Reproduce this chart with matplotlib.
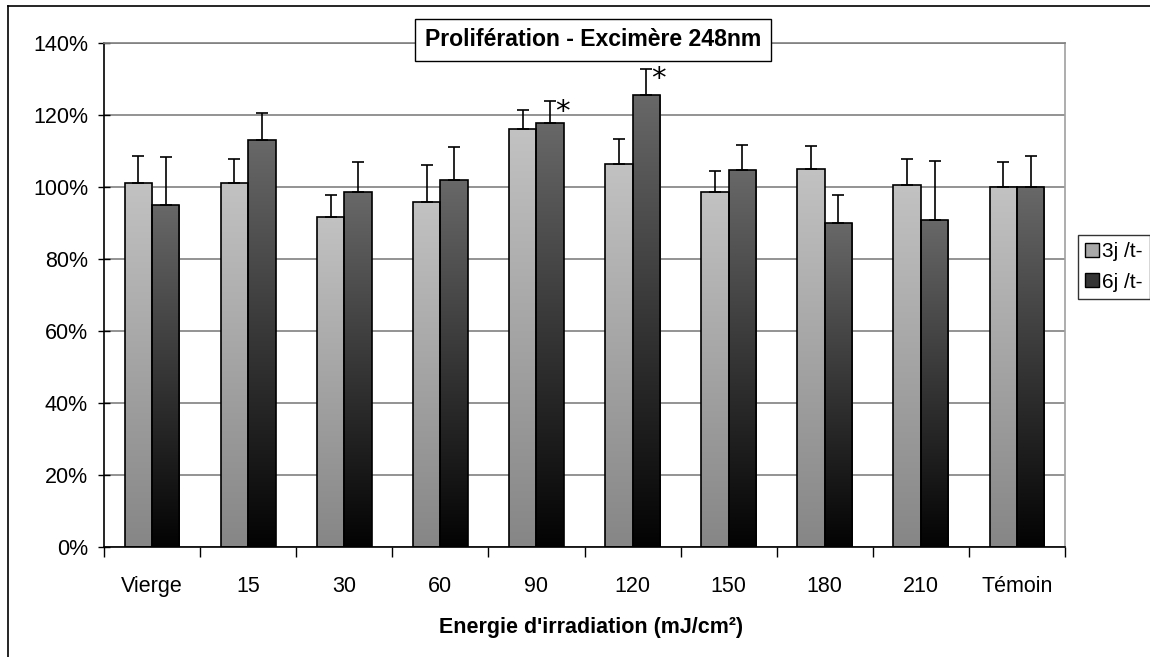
import numpy as np
import matplotlib
matplotlib.use("Agg")
from matplotlib import pyplot as plt
from matplotlib.colors import LinearSegmentedColormap
from matplotlib.patches import Patch
from matplotlib.lines import Line2D

plt.rcParams['font.family'] = ['Liberation Sans', 'DejaVu Sans']

# Données
categories = ['Vierge', '15', '30', '60', '90', '120', '150', '180', '210', 'Témoin']
series_names = ['3j /t-', '6j /t-']
vals_3j = [101.0, 101.0, 91.8, 95.9, 116.1, 106.5, 98.6, 105.1, 100.5, 100.0]
err_3j = [7.7, 6.9, 6.1, 10.2, 5.4, 6.8, 5.9, 6.4, 7.3, 6.9]
vals_6j = [95.1, 113.0, 98.6, 101.9, 117.9, 125.6, 104.6, 90.0, 90.9, 100.0]
err_6j = [13.2, 7.6, 8.3, 9.1, 6.0, 7.3, 7.2, 7.8, 16.4, 8.7]
signif_6j = ['90', '120']  # barres marquées d'une étoile

fig = plt.figure(figsize=(11.5, 6.57), dpi=100)
ax = fig.add_axes([104 / 1150, 110 / 657, 961 / 1150, 504 / 657])

x = np.arange(len(categories))
w = 0.285
cmap_clair = LinearSegmentedColormap.from_list('clair', ['#c2c2c2', '#868686'])
cmap_fonce = LinearSegmentedColormap.from_list('fonce', ['#686868', '#030303'])
grad = np.linspace(0, 1, 256).reshape(-1, 1)

for vals, errs, off, cmap in [(vals_3j, err_3j, -w / 2, cmap_clair),
                              (vals_6j, err_6j, w / 2, cmap_fonce)]:
    bars = ax.bar(x + off, vals, width=w, facecolor='none', edgecolor='black',
                  linewidth=1.2, zorder=3)
    for b in bars:
        x0, h = b.get_x(), b.get_height()
        im = ax.imshow(grad, cmap=cmap, aspect='auto', extent=[x0, x0 + w, 0, h],
                       origin='upper', zorder=2, interpolation='bilinear')
        im.set_clip_path(b)
    ax.errorbar(x + off, vals, yerr=[np.zeros(len(vals)), errs], fmt='none',
                ecolor='black', elinewidth=1.2, capsize=4, capthick=1.2, zorder=4)

# étoiles de significativité
for c in signif_6j:
    i = categories.index(c)
    top = vals_6j[i] + err_6j[i]
    ax.text(i + w / 2 + 0.13, top - 3.0, '*', fontsize=21, ha='center', va='center',
            family='DejaVu Sans', color='black', zorder=5)

ax.set_xlim(-0.5, len(categories) - 0.5)
ax.set_ylim(0, 140)
ax.set_yticks(np.arange(0, 141, 20))
ax.set_yticklabels(['%d%%' % v for v in range(0, 141, 20)], fontsize=15.5)
ax.yaxis.grid(True, color='#808080', linewidth=1.2, zorder=1)
ax.set_axisbelow(True)
ax.tick_params(axis='y', direction='inout', length=9, width=1, pad=7)

ax.set_xticks(x)
ax.set_xticklabels(categories, fontsize=15.5)
ax.set_xticks(np.arange(-0.5, len(categories), 1), minor=True)
ax.tick_params(axis='x', which='major', length=0, pad=21)
ax.tick_params(axis='x', which='minor', direction='out', length=7, width=1)

ax.spines['left'].set_color('black')
ax.spines['bottom'].set_color('black')
ax.spines['right'].set_color('#a0a0a0')
ax.spines['top'].set_color('#808080')
for s in ax.spines.values():
    s.set_linewidth(1.2)

fig.text(591 / 1150, 1 - 628 / 657, "Energie d'irradiation (mJ/cm²)", fontsize=15.5,
         fontweight='bold', ha='center', va='center')

fig.text(593 / 1150, 1 - 40 / 657, 'Prolifération - Excimère 248nm', fontsize=16.6,
         fontweight='bold', ha='center', va='center',
         bbox=dict(boxstyle='square,pad=0.42', facecolor='white', edgecolor='black',
                   linewidth=1))

handles = [Patch(facecolor='#a8a8a8', edgecolor='black'),
           Patch(facecolor='#353535', edgecolor='black')]
leg = fig.legend(handles, series_names, loc='center left',
                 bbox_to_anchor=(1078 / 1150, 1 - 267 / 657), fontsize=15,
                 frameon=True, fancybox=False, handlelength=0.65, handleheight=0.65,
                 handletextpad=0.15, borderpad=0.35, borderaxespad=0,
                 labelspacing=0.55)
leg.get_frame().set_edgecolor('black')
leg.get_frame().set_linewidth(1)

# cadre extérieur (coin haut gauche)
fig.add_artist(Line2D([8 / 1150, 8 / 1150], [0, 1 - 6 / 657], color='black', lw=1.2))
fig.add_artist(Line2D([8 / 1150, 1], [1 - 6 / 657, 1 - 6 / 657], color='black', lw=1.2))

fig.savefig('out.png', dpi=100)
